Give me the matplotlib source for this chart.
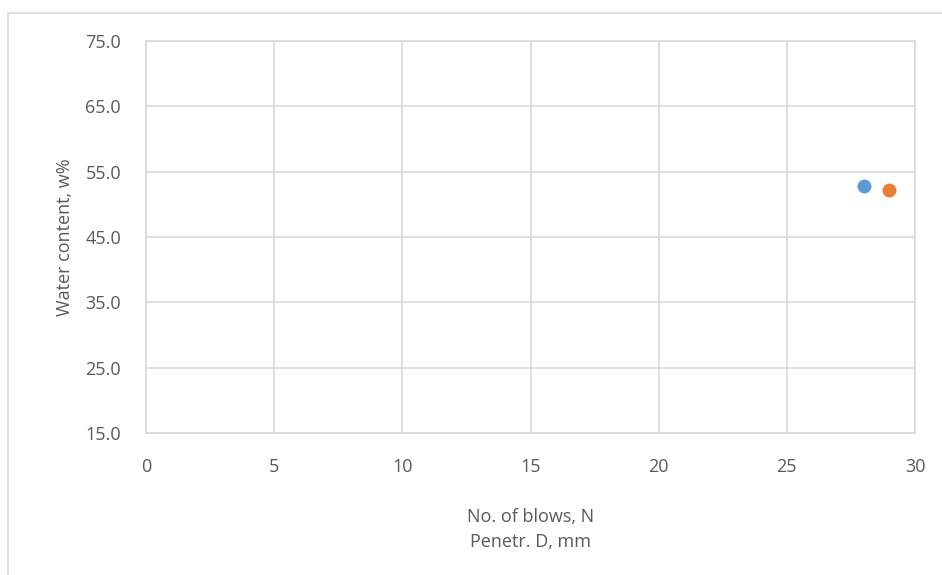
import matplotlib.pyplot as plt
from matplotlib.patches import Rectangle

# data
blows = [28]
water_blows = [52.8]
penetr = [29]
water_penetr = [52.2]

x_ticks = [0, 5, 10, 15, 20, 25, 30]
y_ticks = [15.0, 25.0, 35.0, 45.0, 55.0, 65.0, 75.0]

plt.rcParams['font.family'] = ['Open Sans', 'DejaVu Sans']
txt = '#595959'
grid = '#d9d9d9'

fig = plt.figure(figsize=(9.42, 5.75), dpi=100)
ax = fig.add_axes([146 / 942, 1 - 433 / 575, (915 - 146) / 942, (433 - 41) / 575])

ax.scatter(blows, water_blows, s=100, color='#5b9bd5', zorder=3, linewidths=0)
ax.scatter(penetr, water_penetr, s=100, color='#ed7d31', zorder=3, linewidths=0)

ax.set_xlim(0, 30)
ax.set_ylim(15, 75)
ax.set_xticks(x_ticks)
ax.set_yticks(y_ticks)
ax.set_yticklabels([f'{v:.1f}' for v in y_ticks])
ax.grid(True, color=grid, linewidth=1.2)
ax.set_axisbelow(True)
for s in ax.spines.values():
    s.set_color(grid)
    s.set_linewidth(1.2)
ax.tick_params(length=0, labelsize=13, colors=txt)
ax.tick_params(axis='y', pad=18)
ax.tick_params(axis='x', pad=18)

ax.set_xlabel('No. of blows, N\nPenetr. D, mm', fontsize=13, color=txt,
              labelpad=23, linespacing=1.5)
ax.set_ylabel('Water content, w%', fontsize=13, color=txt, labelpad=8)

fig.patches.append(Rectangle((8 / 942, -0.1), 1, 1.1 - 13 / 575, transform=fig.transFigure,
                             fill=False, edgecolor=grid, linewidth=1.2))

fig.savefig('out.png', dpi=100)
